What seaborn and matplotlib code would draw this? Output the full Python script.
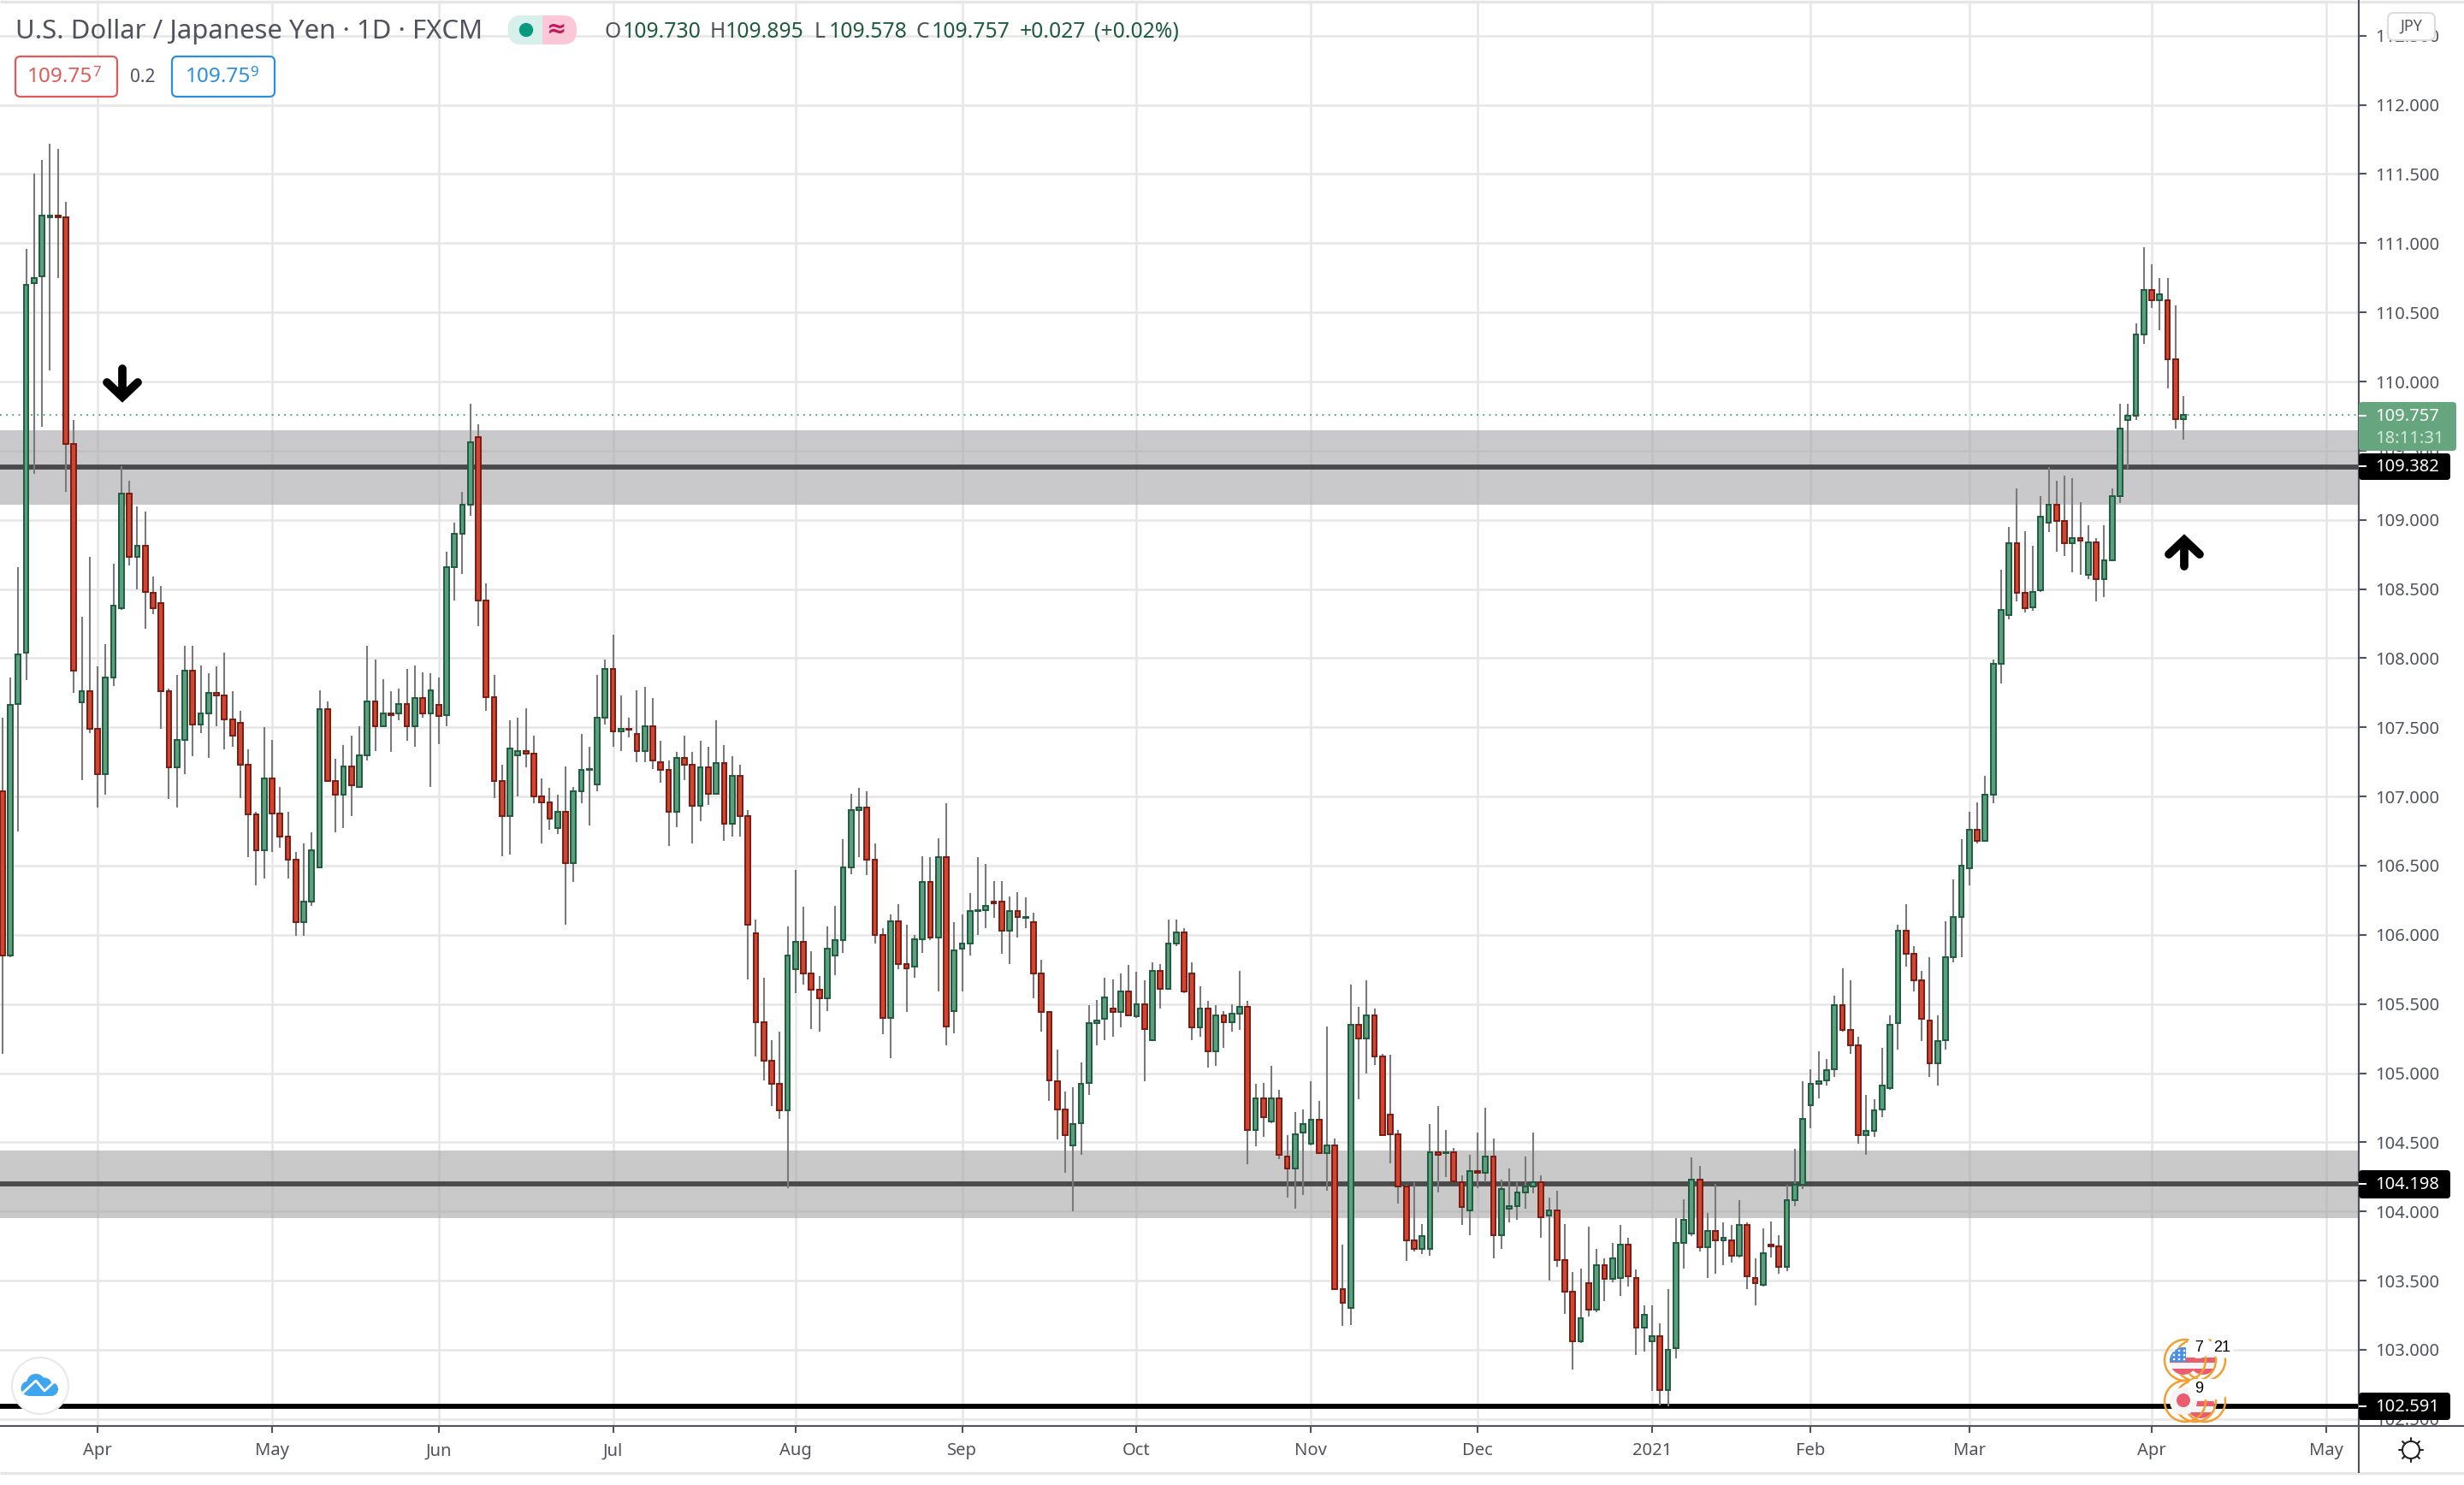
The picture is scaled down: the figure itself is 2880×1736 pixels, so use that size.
# Candlestick USD/JPY diario con zonas de soporte y resistencia
import numpy as np
import pandas as pd
import seaborn as sns
import matplotlib.pyplot as plt
from matplotlib.patches import Circle, FancyBboxPatch, Rectangle

# Datos de las velas
opens = [107.04, 105.85, 107.67, 108.04, 110.71, 110.76, 111.19, 111.2, 111.19, 109.55,
         107.68, 107.76, 107.49, 107.16, 107.86, 108.36, 109.19, 108.73, 108.81, 108.47,
         108.4, 107.76, 107.21, 107.41, 107.91, 107.52, 107.6, 107.75, 107.73, 107.56,
         107.53, 107.23, 106.87, 106.61, 107.13, 106.88, 106.71, 106.54, 106.09, 106.24,
         106.49, 107.63, 107.11, 107.01, 107.22, 107.07, 107.3, 107.69, 107.51, 107.6,
         107.6, 107.67, 107.51, 107.71, 107.6, 107.66, 107.59, 108.66, 108.9, 109.11,
         109.6, 108.42, 107.72, 107.11, 106.86, 107.3, 107.33, 107.31, 107.0, 106.96,
         106.77, 106.89, 106.52, 107.04, 107.19, 107.09, 107.57, 107.92,
         107.47, 107.49, 107.45, 107.33, 107.51, 107.25, 107.19, 106.89, 107.28, 107.23,
         106.93, 107.21, 107.02, 107.24, 106.8, 107.15, 106.86, 106.01, 105.37, 105.09,
         104.92, 104.73, 105.75, 105.95, 105.72, 105.6, 105.54, 105.85, 105.96, 106.49,
         106.9, 106.92, 106.54, 106.0, 105.4, 106.1, 105.79, 105.77, 105.97, 106.38,
         105.98, 106.56, 105.45, 105.9, 105.94, 106.17, 106.18, 106.24, 106.24, 106.03,
         106.17, 106.12, 106.09, 105.72, 105.44, 104.94, 104.74, 104.48, 104.64, 104.93,
         105.36, 105.39, 105.47, 105.44, 105.59, 105.41, 105.5, 105.24, 105.74, 105.61,
         105.94, 106.02, 105.72, 105.33, 105.47, 105.16, 105.42, 105.37,
         105.43, 105.48, 104.59, 104.82, 104.65, 104.82, 104.4, 104.31, 104.57, 104.49,
         104.66, 104.42, 104.48, 103.44, 103.3, 105.35, 105.25, 105.42, 105.12, 104.7,
         104.56, 104.18, 103.79, 103.73, 103.73, 104.43, 104.42, 104.43, 104.21, 104.01,
         104.29, 104.28, 104.4, 103.83, 104.02, 104.04, 104.14, 104.18, 104.21, 103.97,
         104.01, 103.65, 103.42, 103.06, 103.48, 103.29, 103.61, 103.51, 103.52, 103.76,
         103.52, 103.16, 103.06, 103.1, 102.71, 103.01, 103.77, 103.84, 104.23, 103.74,
         103.86, 103.79, 103.79, 103.68, 103.9, 103.52, 103.47, 103.76, 103.75, 103.6,
         104.08, 104.19, 104.77, 104.92, 104.95, 105.03, 105.49, 105.31, 105.2, 104.55,
         104.58, 104.74, 104.89, 105.36, 106.03, 105.86, 105.67, 105.38, 105.07, 105.24,
         105.84, 106.13, 106.48, 106.76, 106.68, 107.01, 107.96, 108.31, 108.83, 108.47,
         108.37, 108.49, 108.98, 109.11, 108.99, 108.83, 108.87, 108.6, 108.84, 108.57,
         108.71, 109.17, 109.72, 109.75, 110.34, 110.66, 110.59, 110.59, 110.16, 109.73]
closes = [105.85, 107.66, 108.03, 110.7, 110.75, 111.2, 111.2, 111.19, 109.55, 107.91,
          107.76, 107.49, 107.16, 107.86, 108.38, 109.19, 108.73, 108.81, 108.48, 108.36,
          107.76, 107.21, 107.41, 107.91, 107.52, 107.6, 107.75, 107.73, 107.56, 107.44,
          107.23, 106.87, 106.61, 107.13, 106.88, 106.71, 106.54, 106.09, 106.24, 106.61,
          107.63, 107.11, 107.01, 107.22, 107.08, 107.3, 107.69, 107.51, 107.6, 107.59,
          107.67, 107.51, 107.71, 107.6, 107.77, 107.58, 108.66, 108.9, 109.11, 109.56,
          108.42, 107.72, 107.11, 106.86, 107.35, 107.33, 107.31, 107.0, 106.96, 106.84,
          106.89, 106.52, 107.04, 107.19, 107.2, 107.57, 107.92, 107.47,
          107.49, 107.48, 107.33, 107.51, 107.26, 107.19, 106.89, 107.28, 107.23, 106.93,
          107.21, 107.02, 107.24, 106.8, 107.15, 106.86, 106.07, 105.37, 105.09, 104.92,
          104.73, 105.85, 105.95, 105.72, 105.6, 105.54, 105.9, 105.96, 106.49, 106.9,
          106.92, 106.54, 106.0, 105.4, 106.1, 105.79, 105.76, 105.97, 106.38, 105.98,
          106.56, 105.34, 105.89, 105.94, 106.17, 106.18, 106.21, 106.23, 106.03, 106.17,
          106.13, 106.13, 105.72, 105.44, 104.95, 104.74, 104.55, 104.63, 104.92, 105.36,
          105.38, 105.55, 105.44, 105.59, 105.42, 105.5, 105.32, 105.74, 105.61, 105.94,
          106.02, 105.59, 105.33, 105.47, 105.16, 105.42, 105.37, 105.43,
          105.48, 104.59, 104.82, 104.68, 104.82, 104.41, 104.31, 104.56, 104.63, 104.66,
          104.42, 104.48, 103.44, 103.34, 105.35, 105.25, 105.42, 105.12, 104.55, 104.56,
          104.18, 103.79, 103.73, 103.82, 104.43, 104.41, 104.43, 104.22, 104.03, 104.29,
          104.28, 104.4, 103.83, 104.16, 104.04, 104.14, 104.18, 104.21, 103.96, 104.01,
          103.65, 103.42, 103.06, 103.23, 103.29, 103.61, 103.51, 103.66, 103.76, 103.53,
          103.16, 103.25, 103.1, 102.71, 103.0, 103.77, 103.94, 104.23, 103.74, 103.86,
          103.79, 103.81, 103.68, 103.9, 103.53, 103.48, 103.7, 103.75, 103.6, 104.08,
          104.19, 104.67, 104.92, 104.94, 105.02, 105.49, 105.31, 105.2, 104.55, 104.58,
          104.73, 104.91, 105.35, 106.03, 105.86, 105.67, 105.39, 105.07, 105.23, 105.84,
          106.13, 106.5, 106.76, 106.68, 107.01, 107.96, 108.35, 108.83, 108.47, 108.36,
          108.48, 109.02, 109.11, 108.99, 108.83, 108.87, 108.85, 108.84, 108.57, 108.71,
          109.17, 109.66, 109.75, 110.34, 110.66, 110.59, 110.63, 110.16, 109.73, 109.757]
highs = [107.57, 107.86, 108.66, 110.96, 111.5, 111.6, 111.72, 111.68, 111.3, 109.72,
         108.3, 108.73, 107.94, 108.1, 108.68, 109.39, 109.28, 109.1, 109.06, 108.59,
         108.52, 107.78, 107.88, 108.09, 108.09, 107.95, 107.89, 107.94, 108.04, 107.76,
         107.62, 107.34, 106.89, 107.5, 107.41, 107.07, 106.89, 106.6, 106.66, 106.74,
         107.77, 107.69, 107.27, 107.37, 107.44, 107.51, 108.09, 107.99, 107.85, 107.76,
         107.78, 107.92, 107.95, 107.9, 107.89, 107.86, 108.77, 108.98, 109.2, 109.84,
         109.69, 108.54, 107.88, 107.23, 107.55, 107.57, 107.64, 107.44, 107.13, 107.06,
         107.01, 107.22, 107.07, 107.45, 107.36, 107.88, 107.99, 108.17,
         107.73, 107.57, 107.77, 107.79, 107.71, 107.4, 107.26, 107.32, 107.44, 107.32,
         107.4, 107.36, 107.55, 107.37, 107.29, 107.23, 106.9, 106.11, 105.69, 105.24,
         105.3, 106.06, 106.47, 106.2, 105.88, 105.7, 106.06, 106.21, 106.69, 107.02,
         107.06, 107.04, 106.66, 106.05, 106.15, 106.22, 106.07, 106.0, 106.57, 106.56,
         106.7, 106.95, 106.09, 106.15, 106.3, 106.56, 106.51, 106.39, 106.39, 106.28,
         106.31, 106.27, 106.16, 105.82, 105.44, 105.17, 104.87, 104.9, 105.08, 105.49,
         105.53, 105.69, 105.68, 105.72, 105.78, 105.73, 105.67, 105.8, 105.79, 106.11,
         106.11, 106.05, 105.8, 105.63, 105.52, 105.49, 105.45, 105.5,
         105.74, 105.52, 104.92, 104.93, 105.05, 104.88, 104.55, 104.72, 104.74, 104.94,
         104.8, 105.34, 104.53, 103.76, 105.64, 105.48, 105.67, 105.47, 105.14, 105.13,
         104.59, 104.19, 104.21, 103.91, 104.63, 104.76, 104.59, 104.46, 104.26, 104.41,
         104.57, 104.75, 104.53, 104.23, 104.31, 104.21, 104.4, 104.57, 104.26, 104.1,
         104.15, 103.91, 103.56, 103.59, 103.89, 103.73, 103.66, 103.77, 103.9, 103.81,
         103.58, 103.32, 103.32, 103.19, 103.44, 103.95, 104.09, 104.39, 104.33, 103.99,
         104.2, 103.92, 103.9, 104.08, 103.92, 103.66, 103.88, 103.93, 103.83, 104.19,
         104.45, 104.94, 105.03, 105.16, 105.1, 105.56, 105.76, 105.67, 105.26, 104.84,
         104.81, 105.18, 105.42, 106.07, 106.22, 105.92, 105.74, 105.84, 105.42, 106.1,
         106.4, 106.69, 106.89, 106.96, 107.15, 107.99, 108.64, 108.95, 109.23, 108.92,
         108.81, 109.17, 109.38, 109.28, 109.32, 109.3, 109.13, 108.96, 108.87, 108.96,
         109.23, 109.84, 109.84, 110.42, 110.97, 110.85, 110.75, 110.75, 110.55, 109.895]
lows = [105.14, 105.84, 106.75, 107.84, 109.33, 109.67, 110.08, 110.75, 109.2, 107.75,
        107.12, 107.46, 106.92, 107.01, 107.8, 108.35, 108.67, 108.5, 108.21, 108.32,
        107.49, 106.98, 106.92, 107.16, 107.29, 107.46, 107.28, 107.51, 107.34, 107.36,
        106.99, 106.56, 106.36, 106.41, 106.6, 106.63, 106.41, 105.99, 105.99, 106.21,
        106.49, 107.11, 106.74, 106.77, 106.86, 107.06, 107.26, 107.33, 107.51, 107.32,
        107.55, 107.4, 107.36, 107.57, 107.07, 107.38, 107.51, 108.42, 108.61, 109.03,
        108.23, 107.62, 106.99, 106.57, 106.58, 107.0, 107.21, 106.95, 106.66, 106.76,
        106.73, 106.07, 106.38, 106.95, 106.79, 107.04, 107.52, 107.36,
        107.33, 107.43, 107.25, 107.25, 107.2, 107.1, 106.64, 106.78, 107.12, 106.66,
        106.82, 106.94, 107.02, 106.68, 106.71, 106.71, 105.68, 105.12, 104.95, 104.76,
        104.67, 104.17, 105.58, 105.64, 105.32, 105.3, 105.45, 105.71, 105.87, 106.44,
        106.56, 106.43, 105.94, 105.28, 105.11, 105.75, 105.44, 105.69, 105.87, 105.96,
        105.59, 105.2, 105.29, 105.59, 105.85, 106.0, 106.05, 106.12, 105.86, 105.79,
        105.98, 106.05, 105.54, 105.3, 104.8, 104.52, 104.28, 104.0, 104.41, 104.84,
        105.2, 105.24, 105.26, 105.33, 105.41, 105.4, 104.94, 105.23, 105.47, 105.6,
        105.92, 105.58, 105.24, 105.26, 105.04, 105.05, 105.18, 105.3,
        105.31, 104.34, 104.47, 104.54, 104.64, 104.38, 104.1, 104.02, 104.12, 104.48,
        104.42, 104.15, 103.43, 103.17, 103.18, 104.81, 105.0, 105.06, 104.55, 104.35,
        104.06, 103.64, 103.71, 103.69, 103.68, 104.14, 104.25, 104.21, 103.9, 103.83,
        104.17, 104.21, 103.66, 103.73, 103.92, 103.94, 104.02, 104.13, 103.81, 103.5,
        103.6, 103.26, 102.86, 103.05, 103.24, 103.27, 103.35, 103.49, 103.39, 103.46,
        102.96, 102.99, 102.7, 102.6, 102.59, 102.94, 103.59, 103.82, 103.71, 103.52,
        103.55, 103.61, 103.63, 103.67, 103.44, 103.32, 103.46, 103.67, 103.55, 103.57,
        104.04, 104.16, 104.6, 104.82, 104.91, 104.97, 105.3, 105.14, 104.49, 104.41,
        104.54, 104.68, 104.88, 105.17, 105.77, 105.59, 105.23, 104.97, 104.91, 105.17,
        105.8, 105.84, 106.36, 106.66, 106.68, 106.95, 107.82, 108.28, 108.41, 108.33,
        108.34, 108.48, 108.91, 108.77, 108.74, 108.62, 108.6, 108.57, 108.41, 108.44,
        108.7, 109.12, 109.37, 109.72, 110.27, 110.53, 110.37, 109.95, 109.66, 109.578]

month_pos = [12, 34, 55, 77, 100, 121, 143, 165, 186, 208, 228, 248, 271, 293]
month_labels = ["Apr", "May", "Jun", "Jul", "Aug", "Sep", "Oct", "Nov", "Dec", "2021", "Feb", "Mar", "Apr", "May"]
price_ticks = [102.5 + 0.5 * k for k in range(21)]
zones = [(109.107, 109.647, "#a5a6aa"), (103.953, 104.443, "#a5a5a5")]
levels = [(109.382, "#4a4a4a"), (104.198, "#4a4a4a"), (102.591, "#000000")]
last_price = 109.757

df = pd.DataFrame({"open": opens, "close": closes, "high": highs, "low": lows})
df["idx"] = df.index
df["bottom"] = df[["open", "close"]].min(axis=1)
df["body"] = (df["open"] - df["close"]).abs()
up = df[df["close"] >= df["open"]]
down = df[df["close"] < df["open"]]

sns.set_theme(style="white")
plt.rcParams["font.family"] = ["Noto Sans", "DejaVu Sans"]

text_color = "#50535e"
fig = plt.figure(figsize=(28.8, 17.36), dpi=100)
ax = fig.add_axes([0, 69 / 1736, 2757 / 2880, 1665 / 1736])

# Rejilla, zonas y niveles por debajo de las velas
ax.set_axisbelow(True)
ax.grid(True, color="#e6e6e6", linewidth=1.8)
for low, high, color in zones:
    ax.axhspan(low, high, color=color, alpha=0.6, lw=0, zorder=1.2)
for level, color in levels:
    ax.axhline(level, color=color, linewidth=4.2, zorder=1.4)
ax.axhline(last_price, color="#4f9a76", linewidth=1.3, linestyle=(0, (1, 3)), zorder=1.5)

ax.vlines(df["idx"], df["low"], df["high"], color="#7a7a7a", linewidth=1.5, zorder=2)
sns.barplot(data=up, x="idx", y="body", bottom=up["bottom"].values, native_scale=True, errorbar=None,
            color="#5b9f7e", saturation=1, edgecolor="#1f5c3f", linewidth=1.4, width=0.62, zorder=3, ax=ax)
sns.barplot(data=down, x="idx", y="body", bottom=down["bottom"].values, native_scale=True, errorbar=None,
            color="#cf4733", saturation=1, edgecolor="#7a1c14", linewidth=1.4, width=0.62, zorder=3, ax=ax)

ax.set_xlim(-0.302, 297.1)
ax.set_ylim(102.449, 112.746)
ax.set_xlabel("")
ax.set_ylabel("")
ax.set_xticks(month_pos)
ax.set_xticklabels(month_labels)
ax.yaxis.tick_right()
ax.set_yticks(price_ticks)
ax.set_yticklabels([f"{v:.3f}" for v in price_ticks])
ax.tick_params(axis="y", length=6.5, width=1.5, color=text_color, labelcolor=text_color, labelsize=14.5, pad=7, right=True)
ax.tick_params(axis="x", length=6, width=1.5, color=text_color, labelcolor=text_color, labelsize=14.5, pad=8, bottom=True)
for lab in ax.get_xticklabels():
    if lab.get_text() == "2021":
        lab.set_fontweight("bold")
for name in ["top", "left"]:
    ax.spines[name].set_visible(False)
for name in ["right", "bottom"]:
    ax.spines[name].set_color(text_color)
    ax.spines[name].set_linewidth(1.5)

# Capa en pixeles para la cabecera y las etiquetas de TradingView
ov = fig.add_axes([0, 0, 1, 1], facecolor="none")
ov.set_xlim(0, 2880)
ov.set_ylim(1736, 0)
ov.axis("off")


def box(x0, y0, x1, y1, face, edge="none", lw=0, r=5, z=5):
    p = FancyBboxPatch((x0 + r, y0 + r), x1 - x0 - 2 * r, y1 - y0 - 2 * r, boxstyle=f"round,pad={r},rounding_size={r}",
                       facecolor=face, edgecolor=edge, linewidth=lw, zorder=z)
    ov.add_patch(p)
    return p


def label(x, y, s, color=text_color, size=14.5, ha="left", **kw):
    ov.text(x, y, s, color=color, fontsize=size, ha=ha, va="center", zorder=kw.pop("zorder", 7), **kw)


ov.hlines(1.5, 0, 2880, color="#e6e6e6", linewidth=2.5)
ov.hlines(1722, 0, 2880, color="#e6e6e6", linewidth=2.5)
ov.hlines(1667, 2757, 2880, color=text_color, linewidth=1.5)
ov.vlines(2757, 0, 1722, color=text_color, linewidth=1.5)

# Cabecera
label(18, 37, "U.S. Dollar / Japanese Yen · 1D · FXCM", size=22.4)
pill = box(594, 18, 674, 52, "#fcc8d8", r=16)
teal = box(594, 18, 674, 52, "#d8f0ec", r=16)
teal.set_clip_path(Rectangle((594, 10), 40, 50, transform=ov.transData))
ov.add_patch(Circle((615, 35), 7.5, color="#089981", zorder=6))
label(651, 34, "≈", color="#c2185b", size=20, ha="center", fontweight="bold", family="DejaVu Sans")
head_dark = "#1f5c3f"
for x, s, c in [(707, "O", text_color), (728, "109.730", head_dark), (830, "H", text_color), (848, "109.895", head_dark),
                (952, "L", text_color), (969, "109.578", head_dark), (1071, "C", text_color), (1089, "109.757", head_dark),
                (1192, "+0.027", head_dark), (1279, "(+0.02%)", head_dark)]:
    label(x, 37, s, color=c, size=17.8)

box(18, 66, 137, 113, "white", "#e05a5a", 1.6, r=6)
label(32, 90, "109.75", color="#e05a5a", size=17.5)
label(108, 85, "7", color="#e05a5a", size=12)
label(152, 90, "0.2", size=15)
box(201, 66, 321, 113, "white", "#2a8fe0", 1.6, r=6)
label(217, 90, "109.75", color="#2a8fe0", size=17.5)
label(292, 85, "9", color="#2a8fe0", size=12)

# Etiquetas del eje de precios
box(2791, 15, 2846, 47, "white", "#dcdcdc", 1.5, r=7)
label(2818, 31, "JPY", size=13, ha="center")
box(2757, 530, 2864, 561, "black", r=4)
label(2776, 546, "109.382", color="white")
box(2757, 470, 2871, 527, "#66a67f", r=4, z=5.5)
label(2776, 487.5, "109.757", color="white")
label(2776, 513.5, "18:11:31", color="#d3e8dc")
box(2757, 1368, 2864, 1401, "black", r=4)
label(2776, 1385, "104.198", color="white")
box(2757, 1628, 2864, 1660, "black", r=4)
label(2776, 1645, "102.591", color="white")
ov.hlines([486, 545, 1384, 1644], 2757, 2766, color="white", linewidth=1.5, zorder=7)

# Flechas
for xs, ys in [([143, 143], [431, 460]), ([125, 143, 161], [447, 464, 447]),
               ([2553, 2553], [662, 632]), ([2535, 2553, 2571], [648, 631, 648])]:
    ov.plot(xs, ys, color="black", linewidth=7, solid_capstyle="round", solid_joinstyle="miter", zorder=6)

# Logo abajo a la izquierda
ov.add_patch(Circle((47, 1620), 33, facecolor="white", edgecolor="#e8e8e8", linewidth=1.5, zorder=6))
for cx, cy, r in [(42, 1617, 11), (33, 1623, 8.5), (60, 1624, 8), (52, 1619, 8.5)]:
    ov.add_patch(Circle((cx, cy), r, color="#3ea6ee", lw=0, zorder=6.1))
ov.add_patch(Rectangle((33, 1620), 27, 12, color="#3ea6ee", lw=0, zorder=6.1))
ov.plot([27, 42, 52, 66], [1628, 1614, 1626, 1613], color="white", linewidth=2, zorder=6.2)

# Banderas de eventos: discos de atras, aros y discos de delante
orange = "#f0a030"
flag_red = "#ea5d6e"


def us_flag(cx, cy, z):
    disc = Circle((cx, cy), 16, facecolor="#f5f5f5", edgecolor="none", zorder=z)
    ov.add_patch(disc)
    for sy, sh in [(cy - 4, 6), (cy + 9, 7)]:
        stripe = Rectangle((cx - 16, sy), 32, sh, color=flag_red, lw=0, zorder=z + 0.01)
        ov.add_patch(stripe)
        stripe.set_clip_path(disc)


for cx, cy in [(2575, 1591), (2572, 1642)]:
    us_flag(cx, cy, 6.1)
for row_y in [1590, 1638]:
    for cx in [2577, 2566, 2554]:
        ov.add_patch(Circle((cx, row_y), 24, facecolor="none", edgecolor=orange, linewidth=1.8, zorder=6.25))
us_flag(2552, 1591, 6.3)
canton = Rectangle((2536, 1575), 19, 17, color="#4a90e2", lw=0, zorder=6.32)
ov.add_patch(canton)
canton.set_clip_path(Circle((2552, 1591), 16, transform=ov.transData))
for sx in [2541, 2547, 2553]:
    for sy in [1579, 1584, 1589]:
        ov.add_patch(Circle((sx, sy), 1.3, color="white", lw=0, zorder=6.33))
ov.add_patch(Circle((2552, 1638), 16, facecolor="#f5f5f5", edgecolor="none", zorder=6.4))
ov.add_patch(Circle((2552, 1637), 8, color=flag_red, lw=0, zorder=6.5))
ov.add_patch(Circle((2570, 1574), 14, color="white", lw=0, zorder=6.6))
ov.add_patch(Circle((2597, 1574), 14, color="white", lw=0, zorder=6.6))
box(2557, 1612, 2603, 1636, "white", r=10, z=6.6)
label(2570, 1576, "7", color="black", size=13, ha="center", family="Liberation Sans", zorder=7)
label(2597, 1576, "21", color="black", size=13, ha="center", family="Liberation Sans", zorder=7)
label(2570, 1624, "9", color="black", size=13, ha="center", family="Liberation Sans", zorder=7)

# Icono del sol abajo a la derecha
ov.add_patch(Circle((2818, 1695), 10, facecolor="none", edgecolor="#222222", linewidth=1.5, zorder=6))
angles = np.arange(8) * np.pi / 4
for a in angles:
    ov.plot([2818 + 10 * np.cos(a), 2818 + 14 * np.cos(a)], [1695 + 10 * np.sin(a), 1695 + 14 * np.sin(a)],
            color="#222222", linewidth=1.5, zorder=6)

fig.savefig("out.png", dpi=100)
